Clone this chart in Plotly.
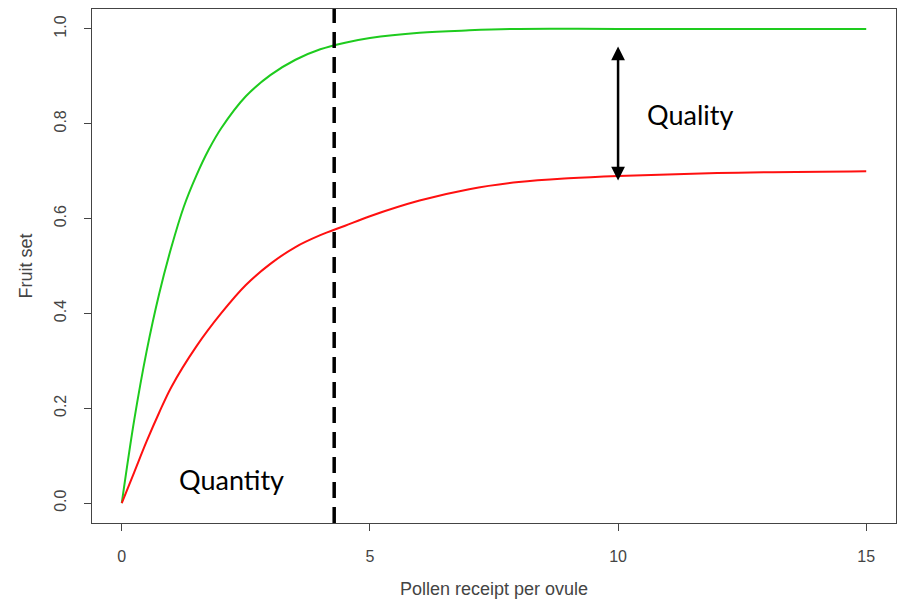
import plotly.graph_objects as go

# Data
green_x = [0, 0.25, 0.5, 0.75, 1.0, 1.25, 1.5, 1.75, 2.0, 2.5, 3.0, 3.5, 4.0, 4.5, 5.0, 6.0, 7.0, 8.0,
           10.0, 15.0]
green_y = [0, 0.175, 0.32, 0.44, 0.54, 0.625, 0.69, 0.745, 0.79, 0.858, 0.903, 0.935, 0.957, 0.971,
           0.981, 0.992, 0.997, 1.0, 1.0, 1.0]

red_x = [0, 0.25, 0.5, 0.75, 1.0, 1.5, 2.0, 2.5, 3.0, 3.5, 4.0, 4.5, 5.0, 6.0, 7.0, 8.0, 9.0, 10.0,
         12.0, 15.0]
red_y = [0, 0.065, 0.13, 0.19, 0.245, 0.33, 0.40, 0.46, 0.505, 0.54, 0.565, 0.585, 0.605, 0.638,
         0.662, 0.677, 0.685, 0.690, 0.696, 0.700]

threshold_x = 4.28
arrow_x = 10
arrow_top = 0.963
arrow_bottom = 0.677

x_ticks = [0, 5, 10, 15]
y_ticks = [0.0, 0.2, 0.4, 0.6, 0.8, 1.0]
y_tick_labels = ["0.0", "0.2", "0.4", "0.6", "0.8", "1.0"]

fig = go.Figure()
fig.add_trace(go.Scatter(x=green_x, y=green_y, mode="lines",
                         line=dict(color="#1ecb1e", width=2, shape="spline", smoothing=1),
                         showlegend=False, hoverinfo="skip"))
fig.add_trace(go.Scatter(x=red_x, y=red_y, mode="lines",
                         line=dict(color="#ff1010", width=2, shape="spline", smoothing=1),
                         showlegend=False, hoverinfo="skip"))

fig.add_shape(type="line", x0=threshold_x, x1=threshold_x, xref="x", y0=0, y1=1, yref="paper",
              line=dict(color="black", width=3.5, dash="16px,9px"))

fig.add_annotation(x=arrow_x, y=arrow_top, ax=arrow_x, ay=arrow_bottom, xref="x", yref="y",
                   axref="x", ayref="y", text="", showarrow=True, arrowhead=2,
                   arrowside="end+start", arrowsize=1.1, arrowwidth=2.5, arrowcolor="black")

fig.add_annotation(x=11.45, y=0.82, xref="x", yref="y", text="Quality", showarrow=False,
                   font=dict(family="Lato", size=27, color="black"))
fig.add_annotation(x=2.22, y=0.05, xref="x", yref="y", text="Quantity", showarrow=False,
                   font=dict(family="Lato", size=27, color="black"))

axis_font = dict(family="Liberation Sans", size=16, color="#444444")
title_font = dict(family="Liberation Sans", size=18, color="#444444")
fig.update_xaxes(range=[-0.6, 15.6], tickvals=x_ticks, ticks="outside", ticklen=7,
                 tickcolor="#444444", showline=True, mirror=True, linecolor="#444444", linewidth=1,
                 showgrid=False, zeroline=False, tickfont=axis_font, ticklabelstandoff=12,
                 title=dict(text="Pollen receipt per ovule", font=title_font, standoff=18))
fig.update_yaxes(range=[-0.042, 1.042], tickvals=y_ticks, ticktext=y_tick_labels, tickangle=-90,
                 ticks="outside", ticklen=7, tickcolor="#444444", showline=True, mirror=True,
                 linecolor="#444444", linewidth=1, showgrid=False, zeroline=False,
                 tickfont=axis_font, ticklabelstandoff=12,
                 title=dict(text="Fruit set", font=title_font, standoff=14))

fig.update_layout(width=899, height=604, margin=dict(l=92, r=3, t=9, b=81),
                  plot_bgcolor="white", paper_bgcolor="white")

fig.write_html("out.html", config={"displayModeBar": False},
               post_script="document.body.style.margin='0';")
